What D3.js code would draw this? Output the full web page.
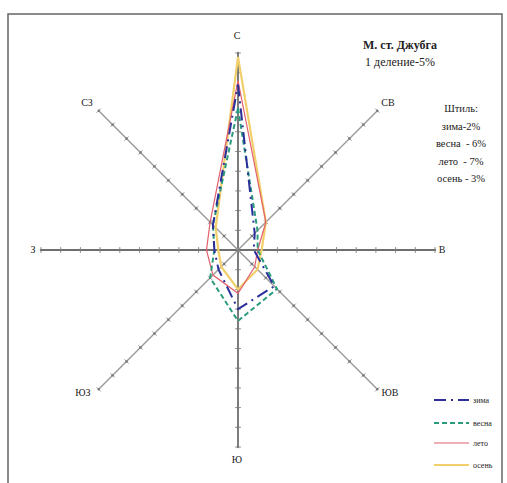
<!doctype html>
<html>
<head>
<meta charset="UTF-8">
<title>Роза ветров - Джубга</title>
<script src="https://d3js.org/d3.v7.min.js"></script>
<style>
  body { margin: 0; background: #fff; }
  svg text { font-family: "Liberation Serif", "DejaVu Serif", serif; fill: #222; }
</style>
</head>
<body>
<div id="chart"></div>
<script>
// directions, clockwise from north
var directions = ["С", "СВ", "В", "ЮВ", "Ю", "ЮЗ", "З", "СЗ"];
var seasons = ["зима", "весна", "лето", "осень"];
// повторяемость, %
var zima  = [42, 6, 4, 13, 15, 7, 6, 9];
var vesna = [36, 7, 5, 14, 18, 10, 6, 9];
var leto  = [43, 10, 5, 6, 11, 9, 8, 10];
var osen  = [49, 10, 6, 7, 10, 6, 5, 8];
var tickValues = d3.range(5, 51, 5);
var calmLines = ["Штиль:", "зима-2%", "весна  - 6%", "лето  - 7%", "осень - 3%"];

var W = 507, H = 483;
var cx = 238, cy = 250;

var svg = d3.select("#chart").append("svg")
    .attr("width", W).attr("height", H)
    .attr("font-family", "Liberation Serif, DejaVu Serif, serif");

svg.append("rect")
    .attr("x", 8).attr("y", 14)
    .attr("width", 494).attr("height", 470)
    .attr("fill", "#fff").attr("stroke", "#666").attr("stroke-width", 1.5);

var r = d3.scaleLinear().domain([0, 50]).range([0, 197]);
var ang = d3.scalePoint().domain(directions).range([0, 315]);

function pt(dir, v) {
    var a = (ang(dir) - 90) * Math.PI / 180;
    return [cx + r(v) * Math.cos(a), cy + r(v) * Math.sin(a)];
}

// axes
var g = svg.append("g");
directions.forEach(function(d, i) {
    var end = pt(d, 50);
    var diag = i % 2 == 1;
    g.append("line")
        .attr("x1", cx).attr("y1", cy).attr("x2", end[0]).attr("y2", end[1])
        .attr("stroke", diag ? "#9a9a9a" : "#6e6e6e")
        .attr("stroke-width", diag ? 1.4 : 1.8);
    var a = (ang(d) - 90) * Math.PI / 180;
    var px = -Math.sin(a), py = Math.cos(a);
    tickValues.forEach(function(t) {
        var p = pt(d, t);
        g.append("line")
            .attr("x1", p[0] - px * 3).attr("y1", p[1] - py * 3)
            .attr("x2", p[0] + px * 3).attr("y2", p[1] + py * 3)
            .attr("stroke", "#999").attr("stroke-width", 1);
        g.append("circle").attr("cx", p[0]).attr("cy", p[1]).attr("r", 1.2)
            .attr("fill", "#777");
    });
});

// axis labels
var labelPos = {
    "С": [237, 39], "СВ": [388, 106], "В": [442, 253], "ЮВ": [390, 396],
    "Ю": [237, 463], "ЮЗ": [83, 396], "З": [33, 253], "СЗ": [87, 106]
};
directions.forEach(function(d) {
    svg.append("text")
        .attr("x", labelPos[d][0]).attr("y", labelPos[d][1])
        .attr("text-anchor", "middle")
        .attr("font-size", 10)
        .text(d);
});

// series
var seriesData = [zima, vesna, leto, osen];
var colors = ["#2a2f9a", "#2a9b7c", "#e2606e", "#f2cf6a"];
var dashes = ["12,5,2,5", "5,3", null, null];
var widths = [2, 2, 1.2, 2.2];

var line = d3.line().curve(d3.curveLinearClosed);

// draw autumn first so it sits underneath
[3, 2, 1, 0].forEach(function(k) {
    var pts = directions.map(function(d, i) { return pt(d, seriesData[k][i]); });
    svg.append("path")
        .attr("d", line(pts))
        .attr("fill", "none")
        .attr("stroke", colors[k])
        .attr("stroke-width", widths[k])
        .attr("stroke-dasharray", dashes[k])
        .attr("stroke-linejoin", "miter");
});

// title
svg.append("text").attr("x", 400).attr("y", 49).attr("text-anchor", "middle")
    .attr("font-size", 12).attr("font-weight", "bold").text("М. ст. Джубга");
svg.append("text").attr("x", 400).attr("y", 66).attr("text-anchor", "middle")
    .attr("font-size", 12).text("1 деление-5%");

// calm
calmLines.forEach(function(s, i) {
    svg.append("text").attr("x", 461).attr("y", 112 + i * 17.5)
        .attr("text-anchor", "middle").attr("font-size", 10.5)
        .attr("xml:space", "preserve")
        .text(s);
});

// legend
seasons.forEach(function(s, k) {
    var y = [400, 423, 443, 465][k];
    svg.append("line")
        .attr("x1", 434).attr("x2", 469).attr("y1", y).attr("y2", y)
        .attr("stroke", colors[k]).attr("stroke-width", widths[k])
        .attr("stroke-dasharray", dashes[k]);
    svg.append("text").attr("x", 473).attr("y", y + 3)
        .attr("font-size", 8).text(s);
});
</script>
</body>
</html>
